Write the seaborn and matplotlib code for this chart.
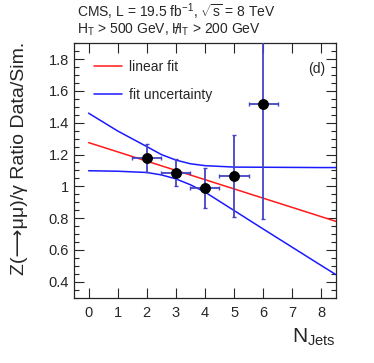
import matplotlib
matplotlib.use("Agg")
import matplotlib.pyplot as plt
import seaborn as sns
import numpy as np
import pandas as pd
from matplotlib.ticker import MultipleLocator

# ---- data ----
njets = [2, 3, 4, 5, 6]
ratio = [1.181, 1.086, 0.992, 1.067, 1.519]
err_up = [0.086, 0.087, 0.122, 0.257, 0.72]
err_down = [0.090, 0.083, 0.126, 0.257, 0.724]
x_half_width = [0.5, 0.5, 0.5, 0.5, 0.5]

fit_x = [0.0, 8.5]
fit_y = [1.275, 0.780]

env_x = [0, 1, 2, 2.5, 3, 3.5, 4, 5, 6, 7, 8, 8.5]
env_upper = [1.46, 1.348, 1.25, 1.20, 1.165, 1.142, 1.13, 1.121, 1.12, 1.119, 1.118, 1.118]
env_lower = [1.098, 1.095, 1.087, 1.072, 1.047, 1.01, 0.964, 0.848, 0.732, 0.617, 0.502, 0.445]

xticks = [0, 1, 2, 3, 4, 5, 6, 7, 8]
yticks = [0.4, 0.6, 0.8, 1.0, 1.2, 1.4, 1.6, 1.8]
ytick_labels = ["0.4", "0.6", "0.8", "1", "1.2", "1.4", "1.6", "1.8"]

sns.set_style("ticks")
plt.rcParams['font.family'] = ['Liberation Sans', 'DejaVu Sans']
plt.rcParams['mathtext.fontset'] = 'custom'
plt.rcParams['mathtext.rm'] = 'Liberation Sans'
plt.rcParams['mathtext.it'] = 'Liberation Sans'

fig = plt.figure(figsize=(3.74, 3.63), dpi=100)
ax = fig.add_axes([0.198, 0.180, 0.700, 0.701])

fit_df = pd.DataFrame({"x": fit_x, "y": fit_y})
env_df = pd.DataFrame({"x": env_x, "upper": env_upper, "lower": env_lower})
pts_df = pd.DataFrame({"x": njets, "y": ratio})

sns.lineplot(data=fit_df, x="x", y="y", color="#ff1a1a", lw=1.1, ax=ax, label="linear fit")
sns.lineplot(data=env_df, x="x", y="upper", color="#1a1aff", lw=1.1, ax=ax, label="fit uncertainty")
sns.lineplot(data=env_df, x="x", y="lower", color="#1a1aff", lw=1.1, ax=ax)

ax.errorbar(njets, ratio, yerr=[err_down, err_up], xerr=x_half_width, fmt='none',
            ecolor="#4444c4", elinewidth=1.3, capsize=1.5, capthick=1.0, zorder=3)
sns.scatterplot(data=pts_df, x="x", y="y", color="black", s=52, edgecolor="black",
                ax=ax, zorder=4, legend=False)

ax.set_xlim(-0.5, 8.5)
ax.set_ylim(0.3, 1.9)
ax.set_xticks(xticks)
ax.set_xticklabels([str(t) for t in xticks])
ax.set_yticks(yticks)
ax.set_yticklabels(ytick_labels)
ax.yaxis.set_minor_locator(MultipleLocator(0.05))
ax.tick_params(which='both', direction='in', top=True, right=True, labelsize=10.5, width=0.8)
ax.tick_params(which='major', length=7)
ax.tick_params(which='minor', length=3.5)
ax.tick_params(axis='x', pad=6)
for s in ax.spines.values():
    s.set_linewidth(0.9)
ax.set_xlabel("")
ax.set_ylabel("")

leg = ax.legend(loc='upper left', bbox_to_anchor=(0.03, 0.985), frameon=False,
                fontsize=10, handlelength=2.0, handletextpad=0.5, labelspacing=1.05)

ax.text(0.96, 0.90, "(d)", transform=ax.transAxes, ha='right', va='center', fontsize=10)

fig.text(77/374, 1 - 12/363, r"CMS, L = 19.5 fb$^{-1}$, $\sqrt{\mathrm{s}}$ = 8 TeV",
         ha='left', va='center', fontsize=10)
line2_prefix = r"H$_{T}$ > 500 GeV, "
line2 = fig.text(77/374, 1 - 30/363, line2_prefix + r"H$_{T}$ > 200 GeV",
                 ha='left', va='center', fontsize=10)

# overlay a slash on the second H (missing H_T)
renderer = fig.canvas.get_renderer()
tmp = fig.text(77/374, 1 - 30/363, line2_prefix + "H", ha='left', va='center', fontsize=10)
bb_full = tmp.get_window_extent(renderer)
tmp2 = fig.text(77/374, 1 - 30/363, line2_prefix, ha='left', va='center', fontsize=10)
bb_pre = tmp2.get_window_extent(renderer)
tmp.remove(); tmp2.remove()
hx = (bb_pre.x1 + bb_full.x1) / 2 + 0.5
fig.text(hx / fig.bbox.width, 1 - 30/363, "/", ha='center', va='center', fontsize=10.5)

fig.text(20/374, 1 - 42/363, "Z(\u27f6μμ)/γ Ratio Data/Sim.",
         rotation=90, ha='center', va='top', fontsize=14)
fig.text(336/374, 1 - 343/363, r"N$_{\mathrm{Jets}}$", ha='right', va='baseline', fontsize=15)

fig.savefig("out.png", dpi=100)
